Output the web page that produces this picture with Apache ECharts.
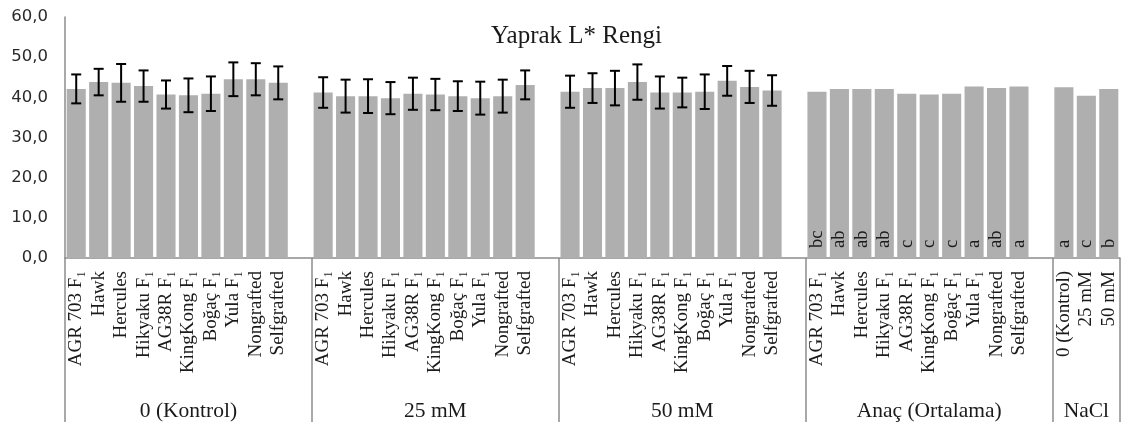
<!DOCTYPE html>
<html><head><meta charset="utf-8">
<script src="https://cdn.jsdelivr.net/npm/echarts@6/dist/echarts.min.js"></script>
<style>html,body{margin:0;padding:0;background:#fff}#c{width:1123px;height:422px}</style>
</head><body><div id="c"></div>
<script>
// ---- data ----
const rootstocks = ['AGR 703 F₁','Hawk','Hercules','Hikyaku F₁','AG38R F₁','KingKong F₁','Boğaç F₁','Yula F₁','Nongrafted','Selfgrafted'];
const naclLevels = ['0 (Kontrol)','25 mM','50 mM'];
const groupNames = ['0 (Kontrol)','25 mM','50 mM','Anaç (Ortalama)','NaCl'];

const kontrolMean = [42.1,43.8,43.6,42.8,40.7,40.5,40.9,44.5,44.5,43.6];
const kontrolErr  = [3.6,3.3,4.7,3.9,3.5,4.2,4.3,4.2,4.0,4.1];
const mM25Mean    = [41.2,40.3,40.3,39.8,40.9,40.7,40.3,39.8,40.3,43.1];
const mM25Err     = [3.8,4.1,4.2,4.0,4.0,3.9,3.7,4.1,4.1,3.6];
const mM50Mean    = [41.4,42.3,42.3,43.8,41.2,41.2,41.4,44.1,42.6,41.7];
const mM50Err     = [4.0,3.7,4.3,4.4,4.0,3.7,4.3,3.7,4.0,3.8];
const anacMean    = [41.4,42.1,42.1,42.1,40.9,40.7,40.9,42.7,42.3,42.7];
const anacLetters = ['bc','ab','ab','ab','c','c','c','a','ab','a'];
const naclMean    = [42.5,40.4,42.1];
const naclLetters = ['a','c','b'];

const yMin = 0, yMax = 60, yStep = 10;

// ---- build ----
const categories = [], values = [], letters = [], errData = [], groupLabelData = [];
const boundaries = [0];
function addGroup(names, means, errs, lets, name, blank) {
  const start = categories.length;
  names.forEach((n, i) => {
    const idx = categories.length;
    categories.push(n);
    values.push(means[i]);
    letters.push(lets ? lets[i] : '');
    if (errs) errData.push([idx, means[i] - errs[i], means[i] + errs[i]]);
  });
  if (blank) { categories.push(''); values.push(null); letters.push(''); }
  const end = categories.length;
  boundaries.push(end);
  for (let i = start; i < end; i++) groupLabelData.push('');
  groupLabelData[start + Math.floor((end - start - 1) / 2)] = name;
  if (!blank) groupLabelData[start + Math.floor((end - start) / 2)] = name;
}
addGroup(rootstocks, kontrolMean, kontrolErr, null, groupNames[0], true);
addGroup(rootstocks, mM25Mean, mM25Err, null, groupNames[1], true);
addGroup(rootstocks, mM50Mean, mM50Err, null, groupNames[2], true);
addGroup(rootstocks, anacMean, null, anacLetters, groupNames[3], true);
addGroup(naclLevels, naclMean, null, naclLetters, groupNames[4], false);

const chart = echarts.init(document.getElementById('c'), null, {renderer: 'canvas'});
const serif = 'Liberation Serif';
const lineCol = '#8c8c8c';

chart.setOption({
  animation: false,
  backgroundColor: '#fff',
  title: {
    text: 'Yaprak L* Rengi', left: 486, top: 19,
    textStyle: {fontFamily: serif, fontSize: 25, fontWeight: 'normal', color: '#1a1a1a'}
  },
  grid: {left: 65, right: 3, top: 17, bottom: 164, containLabel: false},
  xAxis: [{
    type: 'category', data: categories, position: 'bottom',
    axisLine: {show: true, lineStyle: {color: lineCol, width: 1.5}},
    axisTick: {show: false},
    axisLabel: {interval: 0, rotate: 90, margin: 13, fontFamily: serif, fontSize: 19, color: '#1a1a1a'}
  }, {
    type: 'category', data: groupLabelData, position: 'bottom',
    axisLine: {show: false}, axisTick: {show: false},
    axisLabel: {interval: 0, margin: 142, fontFamily: serif, fontSize: 21.5, color: '#1a1a1a'}
  }],
  yAxis: {
    type: 'value', min: yMin, max: yMax, interval: yStep,
    axisLine: {show: true, lineStyle: {color: lineCol, width: 1.5}},
    axisTick: {show: false}, splitLine: {show: false},
    axisLabel: {margin: 17, fontFamily: 'DejaVu Sans', fontSize: 16.5, color: '#2a2a2a',
      formatter: v => v.toFixed(1).replace('.', ',')}
  },
  series: [{
    type: 'bar', data: values, barCategoryGap: '15%',
    itemStyle: {color: '#afafaf'},
    label: {
      show: true, position: 'insideBottom', rotate: 90, align: 'left', verticalAlign: 'middle',
      distance: 10, fontFamily: serif, fontSize: 18.5, color: '#1a1a1a',
      formatter: p => letters[p.dataIndex] || ''
    }
  }, {
    type: 'custom', data: errData, z: 5,
    renderItem: (params, api) => {
      const x = api.value(0);
      const lo = api.coord([x, api.value(1)]);
      const hi = api.coord([x, api.value(2)]);
      const hw = 5;
      const st = {stroke: '#000', lineWidth: 2};
      return {type: 'group', children: [
        {type: 'line', shape: {x1: lo[0], y1: lo[1], x2: hi[0], y2: hi[1]}, style: st},
        {type: 'line', shape: {x1: lo[0]-hw, y1: lo[1], x2: lo[0]+hw, y2: lo[1]}, style: st},
        {type: 'line', shape: {x1: hi[0]-hw, y1: hi[1], x2: hi[0]+hw, y2: hi[1]}, style: st}
      ]};
    }
  }]
});

// divider lines of the multi-level category axis, placed via the axis scale
const c0 = chart.convertToPixel({xAxisIndex: 0}, 0);
const c1 = chart.convertToPixel({xAxisIndex: 0}, 1);
const band = c1 - c0;
const y0 = chart.convertToPixel({yAxisIndex: 0}, 0);
chart.setOption({
  graphic: boundaries.map(b => {
    const x = Math.round(c0 - band / 2 + b * band);
    return {type: 'line', shape: {x1: x, y1: y0, x2: x, y2: 422}, style: {stroke: lineCol, lineWidth: 1.5}, silent: true};
  })
});
</script></body></html>
